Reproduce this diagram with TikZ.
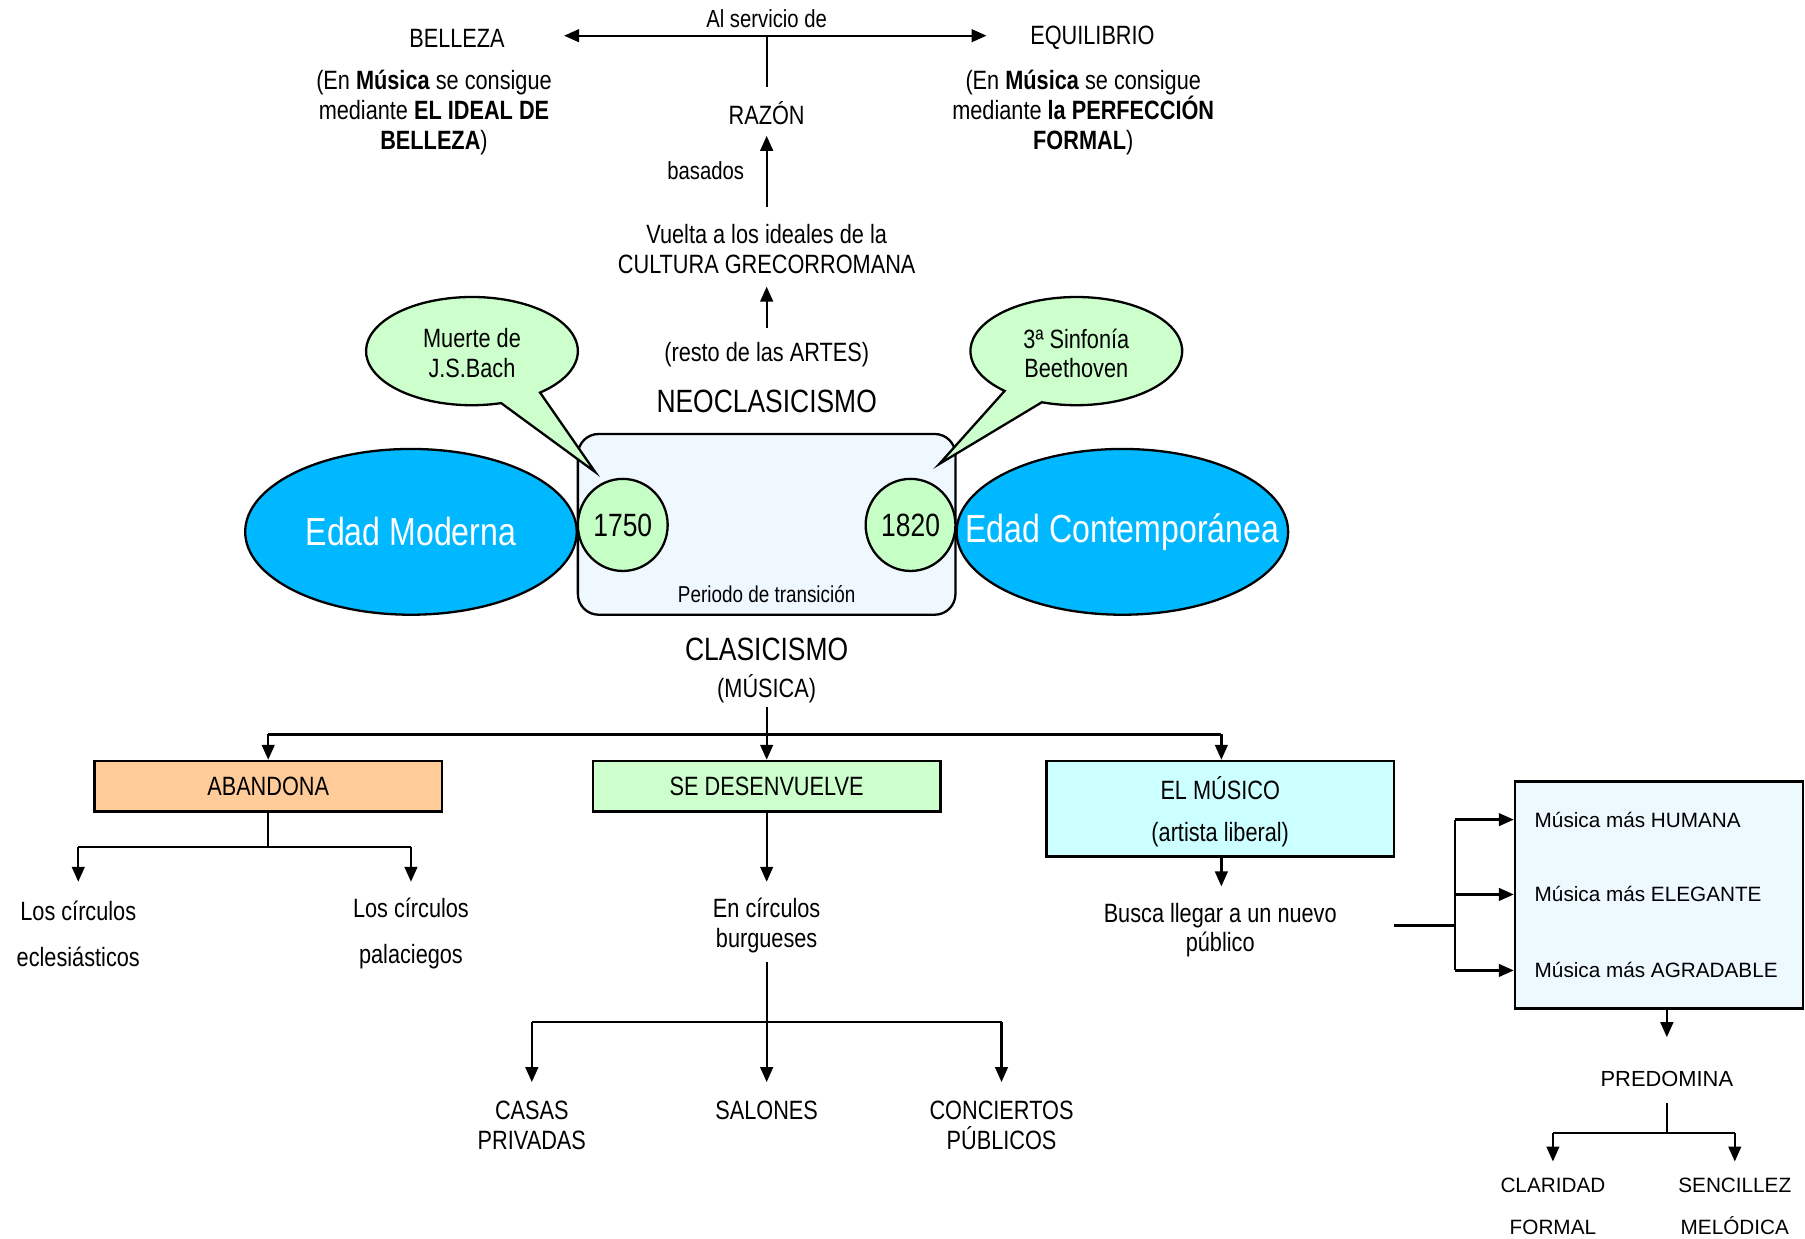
\documentclass[tikz,border=0pt]{standalone}
\usepackage{fontspec}
\setmainfont[FakeStretch=0.82]{Liberation Sans}
\newfontfamily\widefont{Liberation Sans}
\usetikzlibrary{arrows.meta,shapes.geometric}
\definecolor{edadblue}{HTML}{00B8FF}
\definecolor{yeargreen}{HTML}{C6FFC6}
\definecolor{bubgreen}{HTML}{CCFFCC}
\definecolor{peach}{HTML}{FFCC99}
\definecolor{boxgreen}{HTML}{CCFFCC}
\definecolor{boxcyan}{HTML}{CCFFFF}
\definecolor{rectfill}{HTML}{F0F8FF}
\definecolor{rboxfill}{HTML}{EEF8FF}
\newcommand\myfs[2]{\fontsize{#1}{#2}\selectfont}
\begin{document}
\begin{tikzpicture}[x=1pt,y=-1pt,
  txt/.style={inner sep=0pt, align=center, font=\myfs{23}{26}, yshift=-2pt},
  smalltxt/.style={inner sep=0pt, align=center, font=\myfs{21.5}{24}, yshift=-1pt},
  bigtxt/.style={inner sep=0pt, align=center, font=\myfs{28}{32}, yshift=-1pt},
  widetxt/.style={inner sep=0pt, font=\widefont\myfs{18}{22}},
  ln/.style={line width=2pt},
  arr/.style={line width=2pt, -{Triangle[length=13pt,width=11pt]}},
  arrboth/.style={line width=2pt, {Triangle[length=13pt,width=11pt]}-{Triangle[length=13pt,width=11pt]}},
  boxnode/.style={draw, line width=2pt, inner sep=0pt, font=\myfs{23}{26}},
  edad/.style={ellipse, draw, line width=2pt, fill=edadblue, inner sep=0pt,
     minimum width=288pt, minimum height=144pt},
  edadtxt/.style={inner sep=0pt, text=white, font=\myfs{34}{38}},
  yearnode/.style={ellipse, draw, line width=2pt, fill=yeargreen, inner sep=0pt,
     minimum width=78pt, minimum height=80pt, font=\myfs{28}{32}},
  bubble/.style={draw, line width=2pt, fill=bubgreen, line join=miter}
]
\useasboundingbox (0,0) rectangle (1568,1076);

% ---------- top ----------
\node[smalltxt] (alserv) at (666,15) {Al servicio de};
\node[txt] (belleza) at (397,31) {BELLEZA};
\node[txt] (equilibrio) at (949,31) {EQUILIBRIO};
\coordinate (topl) at (490,31);
\coordinate (topr) at (857,31);
\coordinate (topm) at (666,31);
\coordinate (razontop) at (666,76);
\draw[arrboth] (topl) -- (topr);
\draw[ln] (topm) -- (razontop);

\node[txt] (belnote) at (377,96) {(En \textbf{Música} se consigue\\mediante \textbf{EL IDEAL DE}\\\textbf{BELLEZA})};
\node[txt] (eqnote) at (941,96) {(En \textbf{Música} se consigue\\mediante \textbf{la PERFECCIÓN}\\\textbf{FORMAL})};
\node[txt] (razon) at (666,96) {RAZÓN};
\node[smalltxt] (basados) at (613,147) {basados};
\coordinate (b1) at (666,180);
\coordinate (b2) at (666,118);
\draw[arr] (b1) -- (b2);

\node[txt] (vuelta) at (666,214) {Vuelta a los ideales de la\\CULTURA GRECORROMANA};
\coordinate (r1) at (666,285);
\coordinate (r2) at (666,249);
\draw[arr] (r1) -- (r2);
\node[txt] (resto) at (666,306) {(resto de las ARTES)};
\node[bigtxt] (neo) at (666,348) {NEOCLASICISMO};

% ---------- central block ----------
\node[draw, line width=2pt, rounded corners=18pt, fill=rectfill,
      minimum width=328pt, minimum height=157pt, inner sep=0pt] (trans) at (666,455.5) {};
\node[smalltxt, font=\myfs{20}{22}] (periodo) at (666,515) {Periodo de transición};
\node[edad] (moderna) at (357,462) {};
\node[edad] (contemp) at (975,462) {};
\node[edadtxt] (modernatxt) at (357,462) {Edad Moderna};
\node[edadtxt] (contemptxt) at (975,462) {Edad Contemporánea};
\node[yearnode] (y1750) at (541,456) {1750};
\node[yearnode] (y1820) at (791,456) {1820};

% bubbles
\coordinate (tipL) at (517,410);
\coordinate (tipR) at (816,403);
\path (410,305) ++(74:92 and 47) coordinate (bl1);
\draw[bubble] (bl1) arc[start angle=74, end angle=410, x radius=92, y radius=47] -- (tipL) -- cycle;
\path (935,305) ++(132.6:92 and 47) coordinate (br1);
\draw[bubble] (br1) arc[start angle=132.6, end angle=469, x radius=92, y radius=47] -- (tipR) -- cycle;
\node[txt] (bach) at (410,305) {Muerte de\\J.S.Bach};
\node[txt] (beet) at (935,305) {3ª Sinfonía\\Beethoven};

% ---------- clasicismo ----------
\node[bigtxt] (clas) at (666,563) {CLASICISMO};
\node[txt] (musica) at (666,596) {(MÚSICA)};

\node[boxnode, fill=peach, minimum width=302pt, minimum height=44pt] (abandona) at (233,683) {ABANDONA};
\node[boxnode, fill=boxgreen, minimum width=302pt, minimum height=44pt] (desenv) at (666,683) {SE DESENVUELVE};
\node[boxnode, fill=boxcyan, minimum width=302pt, minimum height=83pt] (musico) at (1060,702.5) {};
\node[txt] (musico1) at (1060,683) {EL MÚSICO};
\node[txt] (musico2) at (1060,723) {(artista liberal)};

\coordinate (c0) at (666,614);
\coordinate (cj) at (666,638);
\coordinate (cl) at (233,638);
\coordinate (cr) at (1061,638);
\draw[ln] (cl) -- (cr);
\draw[arr] (c0) -- (desenv.north);
\draw[arr] (cl) -- (abandona.north);
\draw[arr] (cr) -- (cr |- musico.north);

% abandona branch
\coordinate (a1) at (233,736);
\coordinate (al) at (68,736);
\coordinate (ar) at (357,736);
\coordinate (alE) at (68,766);
\coordinate (arE) at (357,766);
\draw[ln] (abandona.south) -- (a1);
\draw[ln] (al) -- (ar);
\draw[arr] (al) -- (alE);
\draw[arr] (ar) -- (arE);
\node[txt, font=\myfs{23}{40}] (ecle) at (68,809) {Los círculos\\eclesiásticos};
\node[txt, font=\myfs{23}{40}] (pala) at (357,809) {Los círculos\\palaciegos};

% desenvuelve branch
\coordinate (dE) at (666,766);
\draw[arr] (desenv.south) -- (dE);
\node[txt] (burg) at (666,802) {En círculos\\burgueses};
\coordinate (d0) at (666,836);
\coordinate (dm) at (666,940);
\coordinate (dl) at (462,888);
\coordinate (dr) at (870,888);
\coordinate (dlE) at (462,940);
\coordinate (drE) at (870,940);
\draw[arr] (d0) -- (dm);
\draw[ln] (dl) -- (dr);
\draw[arr] (dl) -- (dlE);
\draw[arr] (dr) -- (drE);
\node[txt] (casas) at (462,976) {CASAS\\PRIVADAS};
\node[txt] (salones) at (666,963) {SALONES};
\node[txt] (conc) at (870,976) {CONCIERTOS\\PÚBLICOS};

% musico branch
\coordinate (mE) at (1061,770);
\draw[arr] (musico.south -| mE) -- (mE);
\node[txt] (busca) at (1060,806) {Busca llegar a un nuevo\\público};
\coordinate (m0) at (1211,804);
\coordinate (mj) at (1264,804);
\coordinate (mt) at (1264,712);
\coordinate (mb) at (1264,843);
\coordinate (mm) at (1264,777);
\draw[ln] (m0) -- (mj);
\draw[ln] (mt) -- (mb);

\node[draw, line width=2pt, fill=rboxfill, minimum width=250pt, minimum height=197pt, inner sep=0pt] (rbox) at (1441,777.5) {};
\draw[arr] (mt) -- (mt -| rbox.west);
\draw[arr] (mm) -- (mm -| rbox.west);
\draw[arr] (mb) -- (mb -| rbox.west);
\node[widetxt, anchor=west] (hum) at (1333,712) {Música más HUMANA};
\node[widetxt, anchor=west] (ele) at (1333,777) {Música más ELEGANTE};
\node[widetxt, anchor=west] (agr) at (1333,843) {Música más AGRADABLE};

\coordinate (pE) at (1448,901);
\draw[arr] (rbox.south -| pE) -- (pE);
\node[widetxt, font=\widefont\myfs{19}{22}] (pred) at (1448,937) {PREDOMINA};
\coordinate (p0) at (1448,958);
\coordinate (pj) at (1448,984);
\coordinate (pl) at (1349,984);
\coordinate (pr) at (1507,984);
\coordinate (plE) at (1349,1009);
\coordinate (prE) at (1507,1009);
\draw[ln] (p0) -- (pj);
\draw[ln] (pl) -- (pr);
\draw[arr] (pl) -- (plE);
\draw[arr] (pr) -- (prE);
\node[widetxt, align=center, font=\widefont\myfs{18}{36}] (clar) at (1349,1048) {CLARIDAD\\FORMAL};
\node[widetxt, align=center, font=\widefont\myfs{18}{36}] (senc) at (1507,1048) {SENCILLEZ\\MELÓDICA};
\end{tikzpicture}
\end{document}
